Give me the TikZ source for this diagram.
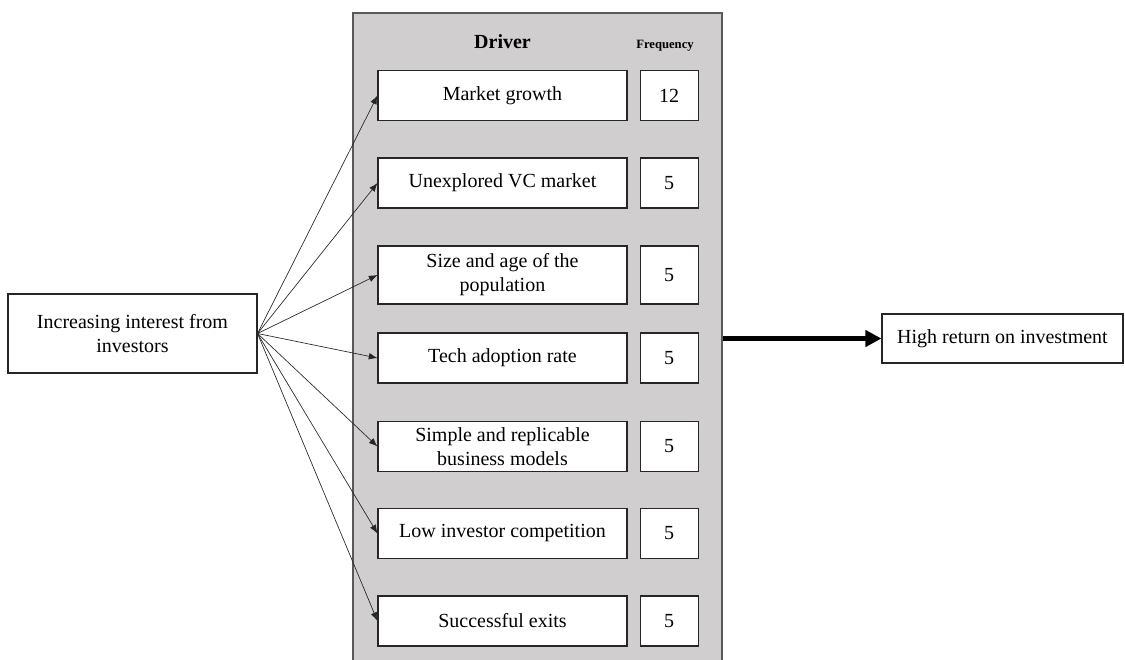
\documentclass[tikz,border=0pt]{standalone}
\usepackage{fontspec}
\setmainfont{Liberation Serif}
\usetikzlibrary{positioning,arrows.meta}
\definecolor{panelgray}{HTML}{D0CECE}
\definecolor{rimgray}{HTML}{595959}

\begin{document}
\begin{tikzpicture}[x=0.75pt,y=-0.75pt,font=\fontsize{15}{18}\selectfont]
    \tikzstyle{panel}=[draw=rimgray, fill=panelgray, line width=1.5pt, inner sep=0pt]
    \tikzstyle{box}=[draw=black!85, fill=white, line width=0.8pt, align=center, inner sep=2pt]
    \tikzstyle{driver}=[box, minimum width=186.75pt, minimum height=37.5pt]
    \tikzstyle{freq}=[box, minimum width=43.5pt, minimum height=37.5pt, right=9pt of #1]
    \tikzstyle{link}=[black!85, line width=0.5pt, -{Latex[length=6.5pt,width=5pt]}]
    \useasboundingbox (0,0) rectangle (1125,660);
    \clip (0,0) rectangle (1125,660);
    % grey column with the drivers
    \node[panel, minimum width=276.75pt, minimum height=515.6pt] (panel) at (537.2,356.25) {};
    \node[font=\fontsize{15}{18}\selectfont\bfseries, anchor=base] (drivertitle) at (502.5,49) {Driver};
    \node[font=\fontsize{9.5}{11}\selectfont\bfseries, anchor=base] (freqtitle) at (665,49) {Frequency};
    \node[driver] (growth) at (502.5,95.5) {Market growth};
    \node[freq=growth] (growthfreq) {12};
    \node[driver] (unexplored) at (502.5,183) {Unexplored VC market};
    \node[freq=unexplored] (unexploredfreq) {5};
    \node[driver, minimum height=43.5pt] (population) at (502.5,275) {Size and age of the\\population};
    \node[freq=population, minimum height=43.5pt] (populationfreq) {5};
    \node[driver] (adoption) at (502.5,358) {Tech adoption rate};
    \node[freq=adoption] (adoptionfreq) {5};
    \node[driver] (models) at (502.5,446.5) {Simple and replicable\\business models};
    \node[freq=models] (modelsfreq) {5};
    \node[driver] (competition) at (502.5,533.5) {Low investor competition};
    \node[freq=competition] (competitionfreq) {5};
    \node[driver] (exits) at (502.5,621) {Successful exits};
    \node[freq=exits] (exitsfreq) {5};
    % cause and effect
    \node[box, minimum width=186.75pt, minimum height=59.25pt] (interest) at (132.5,333.5) {Increasing interest from\\investors};
    \node[box, minimum width=180.75pt, minimum height=36.75pt] (return) at (1002.5,338.5) {High return on investment};
    \draw[link] (interest.east) -- (growth.west);
    \draw[link] (interest.east) -- (unexplored.west);
    \draw[link] (interest.east) -- (population.west);
    \draw[link] (interest.east) -- (adoption.west);
    \draw[link] (interest.east) -- (models.west);
    \draw[link] (interest.east) -- (competition.west);
    \draw[link] (interest.east) -- (exits.west);
    \draw[line width=3.5pt, -{Triangle[length=12pt,width=12pt]}] (panel.east |- return.west) -- (return.west);
\end{tikzpicture}
\end{document}
